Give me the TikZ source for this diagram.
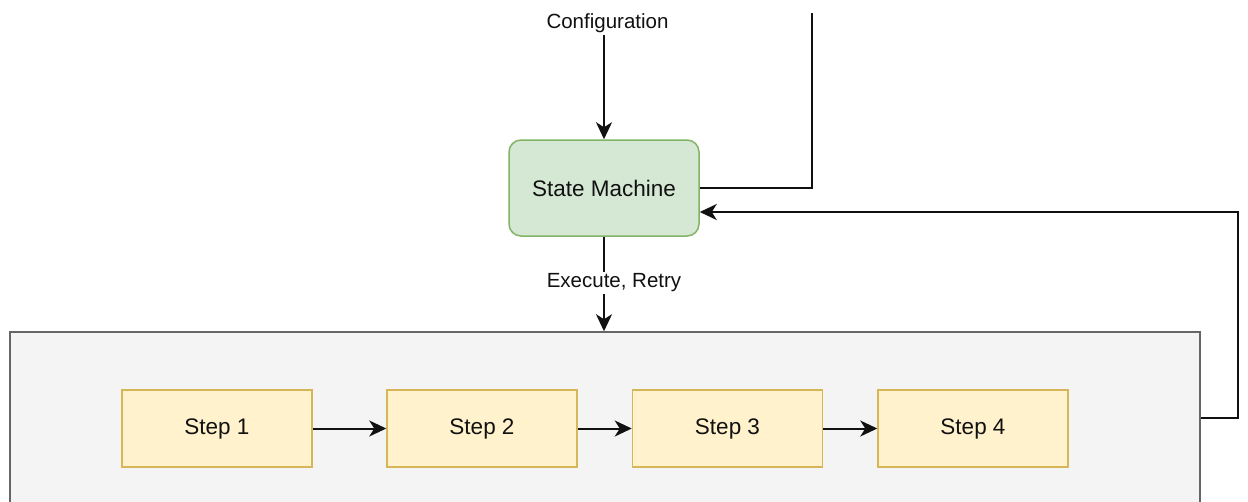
\documentclass[tikz,border=0pt]{standalone}
\usepackage{fontspec}
\setmainfont{Liberation Sans}
\usetikzlibrary{arrows.meta}
\definecolor{smfill}{HTML}{D5E8D4}
\definecolor{smline}{HTML}{82B366}
\definecolor{stfill}{HTML}{FFF2CC}
\definecolor{stline}{HTML}{D6B656}
\definecolor{ctfill}{HTML}{F4F4F4}
\definecolor{ctline}{HTML}{666666}
\definecolor{ink}{HTML}{111111}
\tikzset{
  smbox/.style={draw=smline, fill=smfill, line width=1.5pt, rounded corners=12pt,
    minimum width=190pt, minimum height=96pt, font=\fontsize{22.5}{26}\selectfont, text=ink, inner sep=0pt},
  stepbox/.style={draw=stline, fill=stfill, line width=1.5pt,
    minimum width=190pt, minimum height=77pt, font=\fontsize{22.5}{26}\selectfont, text=ink, inner sep=0pt},
  contbox/.style={draw=ctline, fill=ctfill, line width=1.5pt,
    minimum width=1190pt, minimum height=200pt, inner sep=0pt},
  lbl/.style={font=\fontsize{20.5}{24}\selectfont, text=ink, inner sep=2pt},
  conn/.style={draw=ink, line width=2pt},
  arr/.style={conn, -{Stealth[length=17pt, width=16pt, inset=5pt]}}
}
\begin{document}
\begin{tikzpicture}[x=1pt, y=-1pt]
\path[use as bounding box, clip] (0,0) rectangle (1248,501);
\fill[white] (0,0) rectangle (1248,501);

\node[contbox] (cont) at (605,432) {};
\node[smbox] (sm) at (604,188) {State Machine};
\node[stepbox] (s1) at (217,428.5) {Step 1};
\node[stepbox] (s2) at (482,428.5) {Step 2};
\node[stepbox] (s3) at (727.5,428.5) {Step 3};
\node[stepbox] (s4) at (973,428.5) {Step 4};

\node[lbl] (cfg) at (607.5,23) {Configuration};
\coordinate (topin) at (812,13);
\coordinate (fbc) at (1238,212);

\draw[arr] (cfg.south -| sm.north) -- (sm.north);
\draw[conn] (topin) |- (sm.east);
\draw[arr] (sm.south) -- node[lbl, fill=white, pos=0.49, xshift=10pt] {Execute, Retry} (sm.south |- cont.north);
\draw[arr] (s1) -- (s2);
\draw[arr] (s2) -- (s3);
\draw[arr] (s3) -- (s4);
\draw[arr] (cont.east |- 0,418) -| (fbc) -- (sm.east |- fbc);
\end{tikzpicture}
\end{document}
